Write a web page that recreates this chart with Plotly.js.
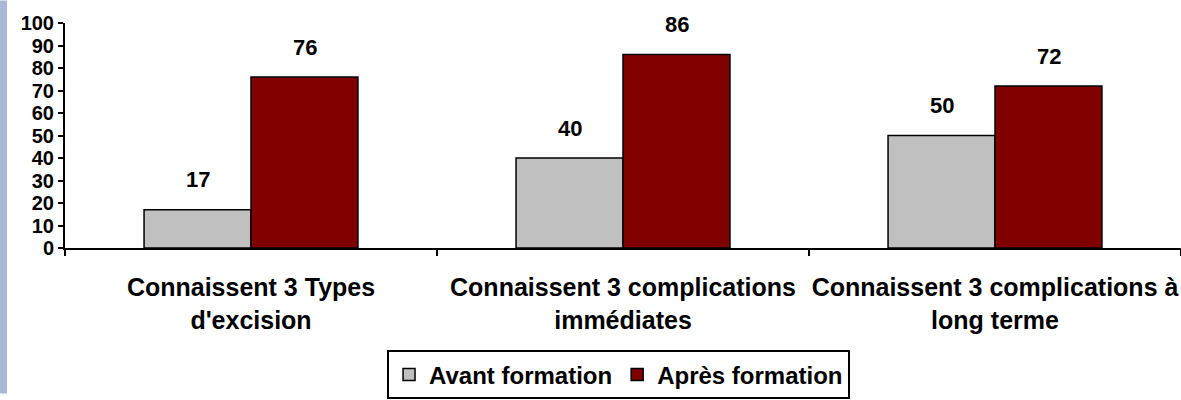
<!DOCTYPE html>
<html>
<head>
<meta charset="utf-8">
<script src="https://cdn.plot.ly/plotly-3.0.1.min.js"></script>
<style>
html,body{margin:0;padding:0;background:#fff;}
#chart{width:1181px;height:400px;}
</style>
</head>
<body>
<div id="chart"></div>
<script>
const categories = ["Connaissent 3 Types<br>d'excision", "Connaissent 3 complications<br>immédiates", "Connaissent 3 complications à<br>long terme"];
const seriesNames = ["Avant formation", "Après formation"];
const avant = [17, 40, 50];
const apres = [76, 86, 72];
const yTicks = [0, 10, 20, 30, 40, 50, 60, 70, 80, 90, 100];

const FONT = "Liberation Sans, Arial, sans-serif";

const traces = [
  {type: "bar", name: seriesNames[0], x: categories, y: avant,
   marker: {color: "#c0c0c0", line: {color: "#000", width: 1.5}}, hoverinfo: "none"},
  {type: "bar", name: seriesNames[1], x: categories, y: apres,
   marker: {color: "#800000", line: {color: "#000", width: 1.5}}, hoverinfo: "none"}
];

const annotations = [];
[avant, apres].forEach((arr, si) => {
  arr.forEach((v, i) => {
    annotations.push({
      xref: "x", yref: "y", x: categories[i], y: v,
      xshift: si === 0 ? -53.5 : 53.5, yshift: 30,
      yanchor: "middle", showarrow: false, text: String(v),
      font: {family: FONT, size: 22, color: "#000", weight: 700}
    });
  });
});

const layout = {
  width: 1181, height: 400,
  margin: {l: 65, r: 0, t: 23, b: 148},
  paper_bgcolor: "#fff", plot_bgcolor: "#fff",
  barmode: "group", bargap: 0.425, bargroupgap: 0,
  showlegend: true,
  legend: {orientation: "h", x: 0.496, xanchor: "center", y: -0.455, yanchor: "top",
           bordercolor: "#000", borderwidth: 2, bgcolor: "#fff",
           font: {family: FONT, size: 24, color: "#000", weight: 700}},
  xaxis: {type: "category", showline: true, linecolor: "#000", linewidth: 2,
          ticks: "outside", tickson: "boundaries", ticklen: 6, tickwidth: 2, tickcolor: "#000",
          ticklabelstandoff: 16, tickangle: 0, automargin: false,
          showgrid: false, zeroline: false, fixedrange: true,
          tickfont: {family: FONT, size: 25, color: "#000", weight: 700}},
  yaxis: {range: [0, 100], tickvals: yTicks, ticktext: yTicks.map(String),
          showline: true, linecolor: "#000", linewidth: 2,
          ticks: "outside", ticklen: 5, tickwidth: 2, tickcolor: "#000",
          showgrid: false, zeroline: false, fixedrange: true, automargin: false,
          tickfont: {family: FONT, size: 20, color: "#000", weight: 700}},
  annotations: annotations,
  shapes: [{type: "rect", xref: "paper", yref: "paper",
            x0: -65/1116, x1: -58/1116, y0: -148/229, y1: 252/229,
            fillcolor: "#a9b7d8", line: {width: 0}, layer: "below"}]
};

Plotly.newPlot("chart", traces, layout, {displayModeBar: false, staticPlot: true});
</script>
</body>
</html>
